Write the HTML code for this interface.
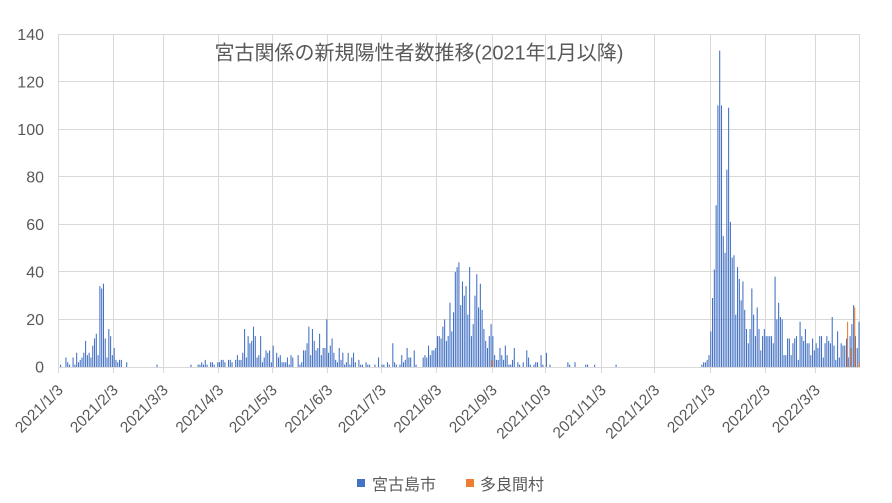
<!DOCTYPE html>
<html><head><meta charset="utf-8"><style>html,body{margin:0;padding:0;background:#fff}svg{display:block}</style></head>
<body>
<svg xmlns="http://www.w3.org/2000/svg" width="892" height="503" viewBox="0 0 892 503">
<rect width="892" height="503" fill="#fff"/>
<g stroke="#d9d9d9" stroke-width="1" fill="none">
<line x1="58" y1="34.5" x2="860" y2="34.5"/>
<line x1="58" y1="81.5" x2="860" y2="81.5"/>
<line x1="58" y1="129.5" x2="860" y2="129.5"/>
<line x1="58" y1="176.5" x2="860" y2="176.5"/>
<line x1="58" y1="224.5" x2="860" y2="224.5"/>
<line x1="58" y1="271.5" x2="860" y2="271.5"/>
<line x1="58" y1="319.5" x2="860" y2="319.5"/>
<line x1="58.5" y1="34" x2="58.5" y2="367"/>
<line x1="113.5" y1="34" x2="113.5" y2="367"/>
<line x1="163.5" y1="34" x2="163.5" y2="367"/>
<line x1="218.5" y1="34" x2="218.5" y2="367"/>
<line x1="272.5" y1="34" x2="272.5" y2="367"/>
<line x1="327.5" y1="34" x2="327.5" y2="367"/>
<line x1="381.5" y1="34" x2="381.5" y2="367"/>
<line x1="436.5" y1="34" x2="436.5" y2="367"/>
<line x1="492.5" y1="34" x2="492.5" y2="367"/>
<line x1="545.5" y1="34" x2="545.5" y2="367"/>
<line x1="601.5" y1="34" x2="601.5" y2="367"/>
<line x1="654.5" y1="34" x2="654.5" y2="367"/>
<line x1="710.5" y1="34" x2="710.5" y2="367"/>
<line x1="765.5" y1="34" x2="765.5" y2="367"/>
<line x1="815.5" y1="34" x2="815.5" y2="367"/>
<line x1="859.5" y1="34" x2="859.5" y2="367"/>
</g>
<g transform="translate(58,367) scale(1.7862,-2.3786)">
<path fill="#4472C4" d="M1.15 0V1h.6V0zM4.15 0V4h.6V0zM5.15 0V2h.6V0zM6.15 0V1h.6V0zM8.15 0V4h.6V0zM9.15 0V1h.6V0zM10.15 0V6h.6V0zM11.15 0V2h.6V0zM12.15 0V3h.6V0zM13.15 0V4h.6V0zM14.15 0V6h.6V0zM15.15 0V11h.6V0zM16.15 0V5h.6V0zM17.15 0V6h.6V0zM18.15 0V4h.6V0zM19.15 0V9h.6V0zM20.15 0V12h.6V0zM21.15 0V14h.6V0zM22.15 0V5h.6V0zM23.15 0V34h.6V0zM24.15 0V33h.6V0zM25.15 0V35h.6V0zM26.15 0V12h.6V0zM27.15 0V4h.6V0zM28.15 0V16h.6V0zM29.15 0V13h.6V0zM30.15 0V5h.6V0zM31.15 0V8h.6V0zM32.15 0V3h.6V0zM33.15 0V2h.6V0zM34.15 0V3h.6V0zM35.15 0V3h.6V0zM38.15 0V2h.6V0zM55.15 0V1h.6V0zM74.15 0V1h.6V0zM78.15 0V1h.6V0zM79.15 0V1h.6V0zM80.15 0V2h.6V0zM81.15 0V1h.6V0zM82.15 0V3h.6V0zM83.15 0V1h.6V0zM85.15 0V2h.6V0zM86.15 0V2h.6V0zM87.15 0V1h.6V0zM89.15 0V2h.6V0zM90.15 0V2h.6V0zM91.15 0V3h.6V0zM92.15 0V3h.6V0zM93.15 0V2h.6V0zM95.15 0V3h.6V0zM96.15 0V3h.6V0zM97.15 0V2h.6V0zM99.15 0V3h.6V0zM100.15 0V5h.6V0zM101.15 0V3h.6V0zM102.15 0V3h.6V0zM103.15 0V6h.6V0zM104.15 0V16h.6V0zM105.15 0V4h.6V0zM106.15 0V13h.6V0zM107.15 0V10h.6V0zM108.15 0V11h.6V0zM109.15 0V17h.6V0zM110.15 0V13h.6V0zM111.15 0V4h.6V0zM112.15 0V5h.6V0zM113.15 0V13h.6V0zM114.15 0V2h.6V0zM115.15 0V4h.6V0zM116.15 0V7h.6V0zM117.15 0V6h.6V0zM118.15 0V7h.6V0zM119.15 0V2h.6V0zM120.15 0V9h.6V0zM122.15 0V6h.6V0zM123.15 0V4h.6V0zM124.15 0V5h.6V0zM125.15 0V2h.6V0zM126.15 0V2h.6V0zM127.15 0V2h.6V0zM128.15 0V4h.6V0zM129.15 0V1h.6V0zM130.15 0V5h.6V0zM131.15 0V4h.6V0zM134.15 0V5h.6V0zM135.15 0V1h.6V0zM136.15 0V2h.6V0zM137.15 0V7h.6V0zM138.15 0V7h.6V0zM139.15 0V10h.6V0zM140.15 0V17h.6V0zM141.15 0V5h.6V0zM142.15 0V16h.6V0zM143.15 0V11h.6V0zM144.15 0V7h.6V0zM145.15 0V8h.6V0zM146.15 0V14h.6V0zM147.15 0V5h.6V0zM148.15 0V8h.6V0zM149.15 0V8h.6V0zM150.15 0V20h.6V0zM151.15 0V6h.6V0zM152.15 0V9h.6V0zM153.15 0V12h.6V0zM154.15 0V6h.6V0zM155.15 0V3h.6V0zM156.15 0V2h.6V0zM157.15 0V8h.6V0zM158.15 0V3h.6V0zM159.15 0V6h.6V0zM160.15 0V1h.6V0zM161.15 0V2h.6V0zM162.15 0V6h.6V0zM163.15 0V1h.6V0zM164.15 0V4h.6V0zM165.15 0V6h.6V0zM166.15 0V2h.6V0zM168.15 0V3h.6V0zM169.15 0V1h.6V0zM170.15 0V1h.6V0zM172.15 0V2h.6V0zM173.15 0V1h.6V0zM174.15 0V1h.6V0zM177.15 0V1h.6V0zM179.15 0V4h.6V0zM181.15 0V1h.6V0zM182.15 0V1h.6V0zM184.15 0V2h.6V0zM185.15 0V1h.6V0zM187.15 0V10h.6V0zM188.15 0V2h.6V0zM189.15 0V1h.6V0zM191.15 0V1h.6V0zM192.15 0V5h.6V0zM193.15 0V2h.6V0zM194.15 0V3h.6V0zM195.15 0V8h.6V0zM196.15 0V4h.6V0zM197.15 0V4h.6V0zM199.15 0V7h.6V0zM200.15 0V1h.6V0zM204.15 0V4h.6V0zM205.15 0V5h.6V0zM206.15 0V4h.6V0zM207.15 0V9h.6V0zM208.15 0V5h.6V0zM209.15 0V7h.6V0zM210.15 0V7h.6V0zM211.15 0V8h.6V0zM212.15 0V13h.6V0zM213.15 0V13h.6V0zM214.15 0V12h.6V0zM215.15 0V17h.6V0zM216.15 0V20h.6V0zM217.15 0V11h.6V0zM218.15 0V13h.6V0zM219.15 0V27h.6V0zM220.15 0V15h.6V0zM221.15 0V23h.6V0zM222.15 0V40h.6V0zM223.15 0V42h.6V0zM224.15 0V44h.6V0zM225.15 0V26h.6V0zM226.15 0V36h.6V0zM227.15 0V30h.6V0zM228.15 0V34h.6V0zM229.15 0V22h.6V0zM230.15 0V42h.6V0zM231.15 0V13h.6V0zM232.15 0V18h.6V0zM233.15 0V30h.6V0zM234.15 0V39h.6V0zM235.15 0V25h.6V0zM236.15 0V35h.6V0zM237.15 0V24h.6V0zM238.15 0V16h.6V0zM239.15 0V11h.6V0zM240.15 0V8h.6V0zM241.15 0V13h.6V0zM242.15 0V18h.6V0zM243.15 0V13h.6V0zM244.15 0V5h.6V0zM245.15 0V3h.6V0zM246.15 0V3h.6V0zM247.15 0V8h.6V0zM248.15 0V5h.6V0zM249.15 0V3h.6V0zM250.15 0V9h.6V0zM251.15 0V5h.6V0zM252.15 0V1h.6V0zM253.15 0V1h.6V0zM254.15 0V3h.6V0zM255.15 0V8h.6V0zM257.15 0V2h.6V0zM258.15 0V1h.6V0zM260.15 0V2h.6V0zM262.15 0V7h.6V0zM263.15 0V4h.6V0zM264.15 0V1h.6V0zM266.15 0V1h.6V0zM267.15 0V2h.6V0zM268.15 0V2h.6V0zM270.15 0V5h.6V0zM271.15 0V1h.6V0zM273.15 0V6h.6V0zM275.15 0V1h.6V0zM285.15 0V2h.6V0zM286.15 0V1h.6V0zM289.15 0V2h.6V0zM295.15 0V1h.6V0zM296.15 0V1h.6V0zM300.15 0V1h.6V0zM312.15 0V1h.6V0zM360.15 0V1h.6V0zM361.15 0V2h.6V0zM362.15 0V2h.6V0zM363.15 0V3h.6V0zM364.15 0V5h.6V0zM365.15 0V15h.6V0zM366.15 0V29h.6V0zM367.15 0V41h.6V0zM368.15 0V68h.6V0zM369.15 0V110h.6V0zM370.15 0V133h.6V0zM371.15 0V110h.6V0zM372.15 0V55h.6V0zM373.15 0V48h.6V0zM374.15 0V83h.6V0zM375.15 0V109h.6V0zM376.15 0V61h.6V0zM377.15 0V46h.6V0zM378.15 0V47h.6V0zM379.15 0V22h.6V0zM380.15 0V42h.6V0zM381.15 0V37h.6V0zM382.15 0V28h.6V0zM383.15 0V36h.6V0zM384.15 0V24h.6V0zM385.15 0V16h.6V0zM386.15 0V10h.6V0zM387.15 0V16h.6V0zM388.15 0V33h.6V0zM389.15 0V22h.6V0zM390.15 0V13h.6V0zM391.15 0V25h.6V0zM392.15 0V16h.6V0zM393.15 0V7h.6V0zM394.15 0V13h.6V0zM395.15 0V16h.6V0zM396.15 0V13h.6V0zM397.15 0V13h.6V0zM398.15 0V13h.6V0zM399.15 0V13h.6V0zM400.15 0V10h.6V0zM401.15 0V38h.6V0zM402.15 0V20h.6V0zM403.15 0V27h.6V0zM404.15 0V21h.6V0zM405.15 0V20h.6V0zM406.15 0V5h.6V0zM407.15 0V5h.6V0zM408.15 0V12h.6V0zM409.15 0V12h.6V0zM410.15 0V5h.6V0zM411.15 0V10h.6V0zM412.15 0V12h.6V0zM413.15 0V13h.6V0zM414.15 0V3h.6V0zM415.15 0V19h.6V0zM416.15 0V13h.6V0zM417.15 0V11h.6V0zM418.15 0V16h.6V0zM419.15 0V10h.6V0zM420.15 0V10h.6V0zM421.15 0V5h.6V0zM422.15 0V12h.6V0zM423.15 0V7h.6V0zM424.15 0V10h.6V0zM425.15 0V8h.6V0zM426.15 0V13h.6V0zM427.15 0V13h.6V0zM428.15 0V4h.6V0zM429.15 0V10h.6V0zM430.15 0V13h.6V0zM431.15 0V11h.6V0zM432.15 0V10h.6V0zM433.15 0V21h.6V0zM434.15 0V9h.6V0zM435.15 0V3h.6V0zM436.15 0V15h.6V0zM437.15 0V4h.6V0zM438.15 0V10h.6V0zM439.15 0V9h.6V0zM440.15 0V9h.6V0zM441.15 0V12h.6V0zM442.15 0V4h.6V0zM443.15 0V13h.6V0zM444.15 0V18h.6V0zM445.15 0V26h.6V0zM446.15 0V13h.6V0zM447.15 0V8h.6V0zM448.15 0V19h.6V0z"/>
<path fill="#ED7D31" d="M242.75 0V3h.6V0zM441.75 0V19h.6V0zM443.75 0V8h.6V0zM445.75 0V25h.6V0zM448.4 0V2h.6V0z"/>
</g>
<g stroke="#d9d9d9" stroke-width="1">
<line x1="58" y1="367.5" x2="860" y2="367.5"/>
<line x1="58.5" y1="367" x2="58.5" y2="373"/>
<line x1="113.5" y1="367" x2="113.5" y2="373"/>
<line x1="163.5" y1="367" x2="163.5" y2="373"/>
<line x1="218.5" y1="367" x2="218.5" y2="373"/>
<line x1="272.5" y1="367" x2="272.5" y2="373"/>
<line x1="327.5" y1="367" x2="327.5" y2="373"/>
<line x1="381.5" y1="367" x2="381.5" y2="373"/>
<line x1="436.5" y1="367" x2="436.5" y2="373"/>
<line x1="492.5" y1="367" x2="492.5" y2="373"/>
<line x1="545.5" y1="367" x2="545.5" y2="373"/>
<line x1="601.5" y1="367" x2="601.5" y2="373"/>
<line x1="654.5" y1="367" x2="654.5" y2="373"/>
<line x1="710.5" y1="367" x2="710.5" y2="373"/>
<line x1="765.5" y1="367" x2="765.5" y2="373"/>
<line x1="815.5" y1="367" x2="815.5" y2="373"/>
</g>
<g font-family="'Liberation Sans', 'Noto Sans CJK JP', sans-serif" fill="#595959">
<g font-size="16" text-anchor="end">
<text x="44" y="40">140</text>
<text x="44" y="87.5">120</text>
<text x="44" y="135">100</text>
<text x="44" y="182.5">80</text>
<text x="44" y="230">60</text>
<text x="44" y="277.5">40</text>
<text x="44" y="325">20</text>
<text x="44" y="372.5">0</text>
</g>
<g font-size="15.5" text-anchor="end">
<text transform="translate(64,391) rotate(-45)">2021/1/3</text>
<text transform="translate(119,391) rotate(-45)">2021/2/3</text>
<text transform="translate(169,391) rotate(-45)">2021/3/3</text>
<text transform="translate(224.5,391) rotate(-45)">2021/4/3</text>
<text transform="translate(278,391) rotate(-45)">2021/5/3</text>
<text transform="translate(333.5,391) rotate(-45)">2021/6/3</text>
<text transform="translate(387,391) rotate(-45)">2021/7/3</text>
<text transform="translate(442.5,391) rotate(-45)">2021/8/3</text>
<text transform="translate(498,391) rotate(-45)">2021/9/3</text>
<text transform="translate(551.5,391) rotate(-45)">2021/10/3</text>
<text transform="translate(607,391) rotate(-45)">2021/11/3</text>
<text transform="translate(660.5,391) rotate(-45)">2021/12/3</text>
<text transform="translate(716,391) rotate(-45)">2022/1/3</text>
<text transform="translate(771,391) rotate(-45)">2022/2/3</text>
<text transform="translate(821,391) rotate(-45)">2022/3/3</text>
</g>
<text x="419" y="59.5" font-size="20" text-anchor="middle">宮古関係の新規陽性者数推移(2021年1月以降)</text>
<rect x="357" y="479" width="8" height="8" fill="#4472C4"/>
<text x="372" y="490" font-size="16">宮古島市</text>
<rect x="466" y="479" width="8" height="8" fill="#ED7D31"/>
<text x="480" y="490" font-size="16">多良間村</text>
</g>
</svg>
</body></html>
